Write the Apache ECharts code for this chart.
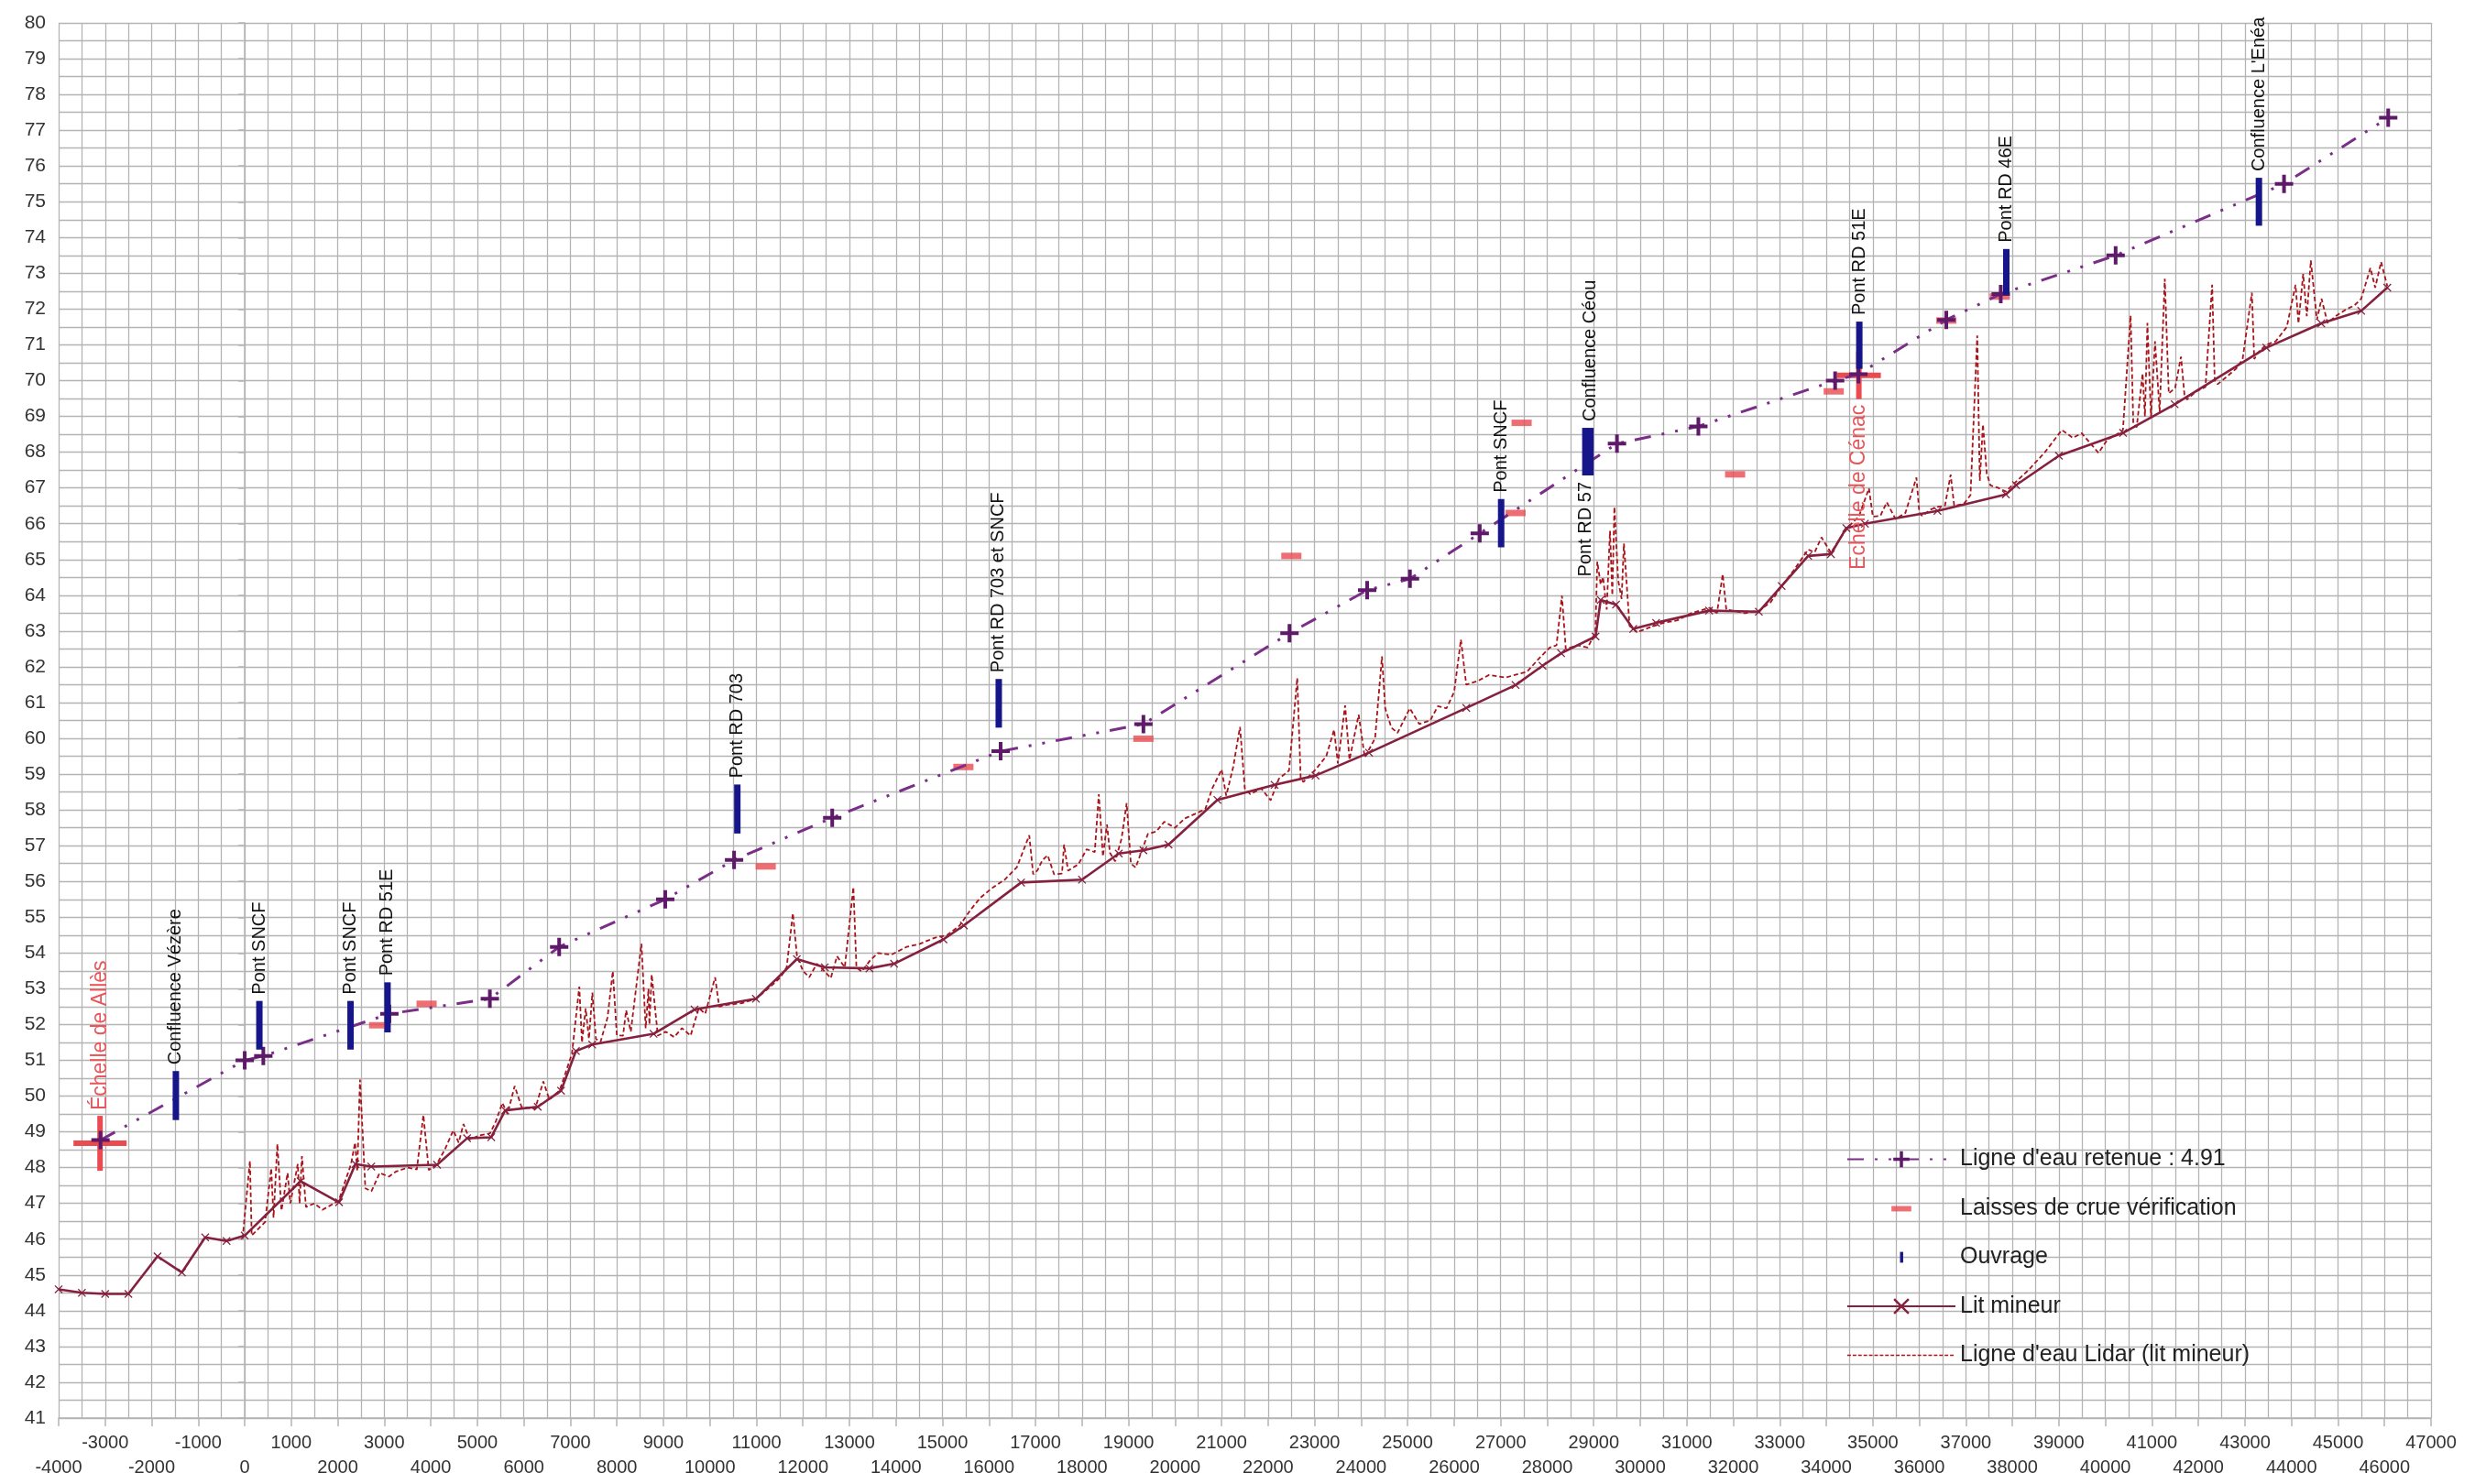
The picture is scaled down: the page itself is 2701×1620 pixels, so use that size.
<!DOCTYPE html>
<html>
<head>
<meta charset="utf-8">
<title>Ligne d'eau</title>
<script src="https://cdn.jsdelivr.net/npm/echarts@6/dist/echarts.min.js"></script>
<style>
html, body { margin: 0; padding: 0; background: #fff; }
#chart { width: 2701px; height: 1620px; }
</style>
</head>
<body>
<div id="chart"></div>
<script>
// --- data (x = distance in m, y = altitude in m) ---
var retenue = [
    [-3100, 48.77], [0, 51.0], [400, 51.12], [3110, 52.3], [5270, 52.72], [6760, 54.17],
    [9040, 55.5], [10520, 56.6], [12630, 57.78], [16250, 59.64], [19320, 60.4],
    [22460, 62.94], [24130, 64.14], [25050, 64.46], [26550, 65.73], [29500, 68.24],
    [31250, 68.72], [34190, 70.0], [34690, 70.18], [36580, 71.7], [37750, 72.42],
    [40220, 73.5], [43840, 75.5], [46080, 77.35]
];

var laisses = [
    [2890, 51.98], [3910, 52.58], [11200, 56.42], [15450, 59.2], [19320, 59.99],
    [22500, 65.1], [27320, 66.3], [27450, 68.82], [32040, 67.38], [34160, 69.7],
    [36580, 71.68], [37730, 72.35]
];

var ouvrageX = [-1480, 315, 2275, 3070, 10590, 16210, 27010, 28820, 28930, 34710, 37870, 43300];
var ouvrageBas = [49.33, 51.3, 51.3, 51.78, 57.34, 60.3, 65.34, 67.35, 67.35, 70.33, 72.4, 74.33];
var ouvrageHaut = [50.7, 52.66, 52.66, 53.18, 58.71, 61.66, 66.69, 68.68, 68.68, 71.65, 73.68, 75.67];
var ouvrageNoms = ['Confluence Vézère', 'Pont SNCF', 'Pont SNCF', 'Pont RD 51E', 'Pont RD 703',
    'Pont RD 703 et SNCF', 'Pont SNCF', 'Pont RD 57', 'Confluence Céou', 'Pont RD 51E',
    'Pont RD 46E', "Confluence L'Enéa"];

var echelles = [[-3110, 48.68], [34700, 70.15]];
var echelleNoms = ['Échelle de Allès', 'Echelle de Cénac'];

var litMineur = [
    [-4000, 44.6], [-3500, 44.5], [-3000, 44.47], [-2500, 44.47], [-1875, 45.52], [-1350, 45.07],
    [-850, 46.05], [-390, 45.95], [0, 46.1], [1200, 47.62], [2028, 47.03], [2380, 48.1],
    [2720, 48.03], [4135, 48.08], [4780, 48.82], [5300, 48.85], [5600, 49.6], [6300, 49.7],
    [6800, 50.15], [7120, 51.26], [7470, 51.44], [8790, 51.74], [9670, 52.42], [10990, 52.72],
    [11870, 53.83], [12470, 53.6], [13430, 53.57], [13960, 53.7], [15020, 54.38], [15460, 54.77],
    [16690, 55.97], [18000, 56.05], [18790, 56.78], [19320, 56.87], [19860, 57.03], [20910, 58.28],
    [22140, 58.7], [23020, 58.96], [24170, 59.6], [26260, 60.85], [27320, 61.49], [27900, 62.03],
    [28300, 62.38], [29040, 62.85], [29150, 63.87], [29480, 63.74], [29850, 63.06], [30340, 63.23],
    [31480, 63.57], [32550, 63.54], [33040, 64.26], [33610, 65.1], [34100, 65.15], [34430, 65.88],
    [34830, 66.0], [36390, 66.36], [37860, 66.82], [38080, 67.08], [39000, 67.9], [40380, 68.54],
    [41490, 69.34], [43460, 70.92], [44640, 71.6], [45500, 71.95], [46060, 72.6]
];

var lidar = [
    [-46, 46.01], [112, 48.19], [150, 46.1], [300, 46.3], [438, 46.48], [570, 47.98], [620, 46.6],
    [702, 48.66], [790, 46.8], [922, 47.85], [980, 47.0], [1141, 48.1], [1180, 47.0], [1230, 48.32],
    [1317, 46.9], [1500, 47.0], [1669, 46.82], [1850, 46.95], [2021, 47.08], [2285, 48.1],
    [2373, 48.7], [2420, 47.9], [2478, 50.46], [2549, 48.62], [2593, 47.42], [2725, 47.34],
    [2900, 47.85], [3100, 47.75], [3252, 47.89], [3500, 48.0], [3700, 47.95], [3841, 49.47],
    [3956, 47.93], [4132, 48.1], [4300, 48.5], [4484, 49.04], [4600, 48.7], [4703, 49.22],
    [4835, 48.79], [5050, 48.9], [5275, 48.96], [5400, 49.3], [5539, 49.81], [5650, 49.5],
    [5803, 50.28], [5950, 49.7], [6243, 49.64], [6419, 50.41], [6550, 49.9], [6771, 50.16],
    [7034, 51.18], [7193, 53.06], [7250, 51.5], [7330, 52.45], [7400, 51.6], [7474, 52.89],
    [7550, 51.6], [7650, 51.52], [7800, 52.2], [7913, 53.49], [8000, 51.7], [8133, 51.69],
    [8200, 52.4], [8300, 51.8], [8529, 54.26], [8620, 51.9], [8680, 53.0], [8700, 52.0],
    [8749, 53.4], [8881, 51.69], [9050, 51.8], [9233, 51.65], [9400, 51.9], [9585, 51.69],
    [9761, 52.46], [9900, 52.3], [10112, 53.32], [10200, 52.5], [10376, 52.55], [10700, 52.6],
    [10992, 52.72], [11250, 53.0], [11520, 53.32], [11650, 53.6], [11784, 55.11], [11872, 53.92],
    [12000, 53.5], [12136, 53.32], [12300, 53.7], [12469, 53.48], [12600, 53.3], [12733, 53.91],
    [12900, 53.6], [13085, 55.84], [13150, 53.6], [13260, 53.48], [13450, 53.8], [13612, 54.0],
    [13900, 53.95], [14228, 54.17], [14500, 54.25], [14843, 54.43], [15100, 54.5], [15371, 54.77],
    [15600, 55.2], [15811, 55.54], [16050, 55.8], [16339, 56.05], [16600, 56.4], [16866, 57.29],
    [16950, 56.2], [17042, 56.31], [17150, 56.6], [17262, 56.73], [17400, 56.2], [17570, 56.22],
    [17614, 57.03], [17700, 56.3], [17922, 56.48], [18100, 56.9], [18274, 56.82], [18361, 58.44],
    [18450, 56.7], [18537, 57.59], [18600, 56.8], [18713, 56.56], [18850, 57.2], [18960, 58.19],
    [19050, 56.5], [19153, 56.39], [19417, 57.33], [19600, 57.4], [19769, 57.67], [20000, 57.5],
    [20209, 57.76], [20450, 57.9], [20649, 58.02], [20800, 58.6], [21000, 59.13], [21100, 58.4],
    [21250, 59.2], [21396, 60.32], [21500, 58.6], [21616, 58.44], [21850, 58.6], [22056, 58.27],
    [22232, 58.87], [22450, 59.1], [22627, 61.69], [22700, 58.9], [22759, 58.78], [23023, 59.13],
    [23250, 59.5], [23419, 60.24], [23500, 59.3], [23656, 60.92], [23750, 59.4], [23947, 60.66],
    [24078, 59.47], [24300, 60.0], [24448, 62.29], [24518, 60.84], [24650, 60.3], [24782, 60.15],
    [25046, 60.84], [25250, 60.4], [25486, 60.5], [25650, 60.9], [25837, 60.84], [26000, 61.3],
    [26145, 62.76], [26260, 61.5], [26500, 61.6], [26749, 61.77], [27100, 61.7], [27566, 61.86],
    [27800, 62.2], [28056, 62.54], [28200, 62.6], [28317, 63.99], [28400, 62.5], [28650, 62.6],
    [28873, 62.54], [29036, 62.97], [29077, 64.94], [29150, 64.3], [29200, 64.51], [29280, 63.6],
    [29350, 65.8], [29400, 64.0], [29445, 66.47], [29526, 64.42], [29600, 63.9], [29649, 65.45],
    [29771, 63.14], [29935, 62.97], [30200, 63.1], [30507, 63.23], [30800, 63.3], [31100, 63.5],
    [31487, 63.65], [31650, 63.5], [31773, 64.59], [31850, 63.6], [31977, 63.57], [32250, 63.5],
    [32549, 63.57], [32800, 63.8], [33039, 64.25], [33300, 64.7], [33611, 65.28], [33750, 65.2],
    [33896, 65.62], [34100, 65.19], [34300, 65.6], [34509, 65.96], [34700, 66.2], [34917, 66.99],
    [35000, 66.2], [35162, 66.22], [35300, 66.6], [35489, 66.13], [35700, 66.3], [35938, 67.29],
    [36000, 66.3], [36062, 66.22], [36250, 66.4], [36385, 66.47], [36550, 66.5], [36673, 67.37],
    [36750, 66.5], [36959, 66.56], [37100, 66.8], [37245, 71.26], [37300, 67.2], [37368, 68.78],
    [37450, 67.4], [37530, 67.07], [37700, 67.0], [37857, 66.9], [38100, 67.2], [38347, 67.5],
    [38700, 68.0], [39064, 68.62], [39300, 68.4], [39491, 68.53], [39852, 67.98], [40049, 68.36],
    [40250, 68.5], [40377, 68.62], [40542, 71.82], [40600, 68.8], [40673, 68.7], [40800, 70.2],
    [40850, 69.0], [40903, 71.61], [40980, 69.0], [41067, 71.1], [41166, 69.13], [41277, 72.85],
    [41362, 69.64], [41500, 69.8], [41625, 70.67], [41700, 69.6], [41757, 69.47], [41950, 69.7],
    [42151, 69.82], [42295, 72.68], [42350, 70.0], [42413, 69.9], [42600, 70.1], [42807, 70.33],
    [42950, 70.6], [43149, 72.46], [43200, 70.6], [43267, 70.76], [43450, 71.0], [43661, 71.1],
    [43900, 71.5], [44088, 72.68], [44150, 71.6], [44252, 72.98], [44330, 71.8], [44416, 73.36],
    [44547, 71.7], [44646, 72.29], [44777, 71.61], [44950, 71.8], [45171, 71.99], [45350, 72.1],
    [45500, 72.29], [45697, 73.15], [45800, 72.6], [45927, 73.32], [46060, 72.64]
];

// --- styles ---
var FONT = 'Liberation Sans';
var NOM_RETENUE = "Ligne d'eau retenue : 4.91";
var NOM_LAISSES = 'Laisses de crue vérification';
var NOM_OUVRAGE = 'Ouvrage';
var NOM_LIT = 'Lit mineur';
var NOM_LIDAR = "Ligne d'eau Lidar (lit mineur)";

var PLUS = 'path://M-1.6,-8h3.2v6.4h6.4v3.2h-6.4v6.4h-3.2v-6.4h-6.4v-3.2h6.4z';
var CROIX = 'path://M-5,-4L-4,-5L0,-1L4,-5L5,-4L1,0L5,4L4,5L0,1L-4,5L-5,4L-1,0Z';
var labelsDessous = ['Pont RD 57'];
var tailleEchelle = {'Échelle de Allès': [58, 60], 'Echelle de Cénac': [48, 52]};

// dashed legend icon for the Lidar line (no symbol in the reference legend)
var iconeLidar = 'path://M0,0M120,22';
for (var d = 0; d < 118; d += 6) {
    iconeLidar += 'M' + d + ',10.3h4v1.4h-4z';
}

var ouvrageData = ouvrageX.map(function (x, i) {
    return [x, ouvrageBas[i], ouvrageHaut[i]];
});

function renderOuvrage(params, api) {
    var x = api.value(0);
    var bas = api.coord([x, api.value(1)]);
    var haut = api.coord([x, api.value(2)]);
    var nom = ouvrageNoms[params.dataIndex];
    var dessous = labelsDessous.indexOf(nom) >= 0;
    return {
        type: 'group',
        children: [{
            type: 'rect',
            shape: {x: bas[0] - 3.5, y: haut[1], width: 7, height: bas[1] - haut[1]},
            style: {fill: '#16168a'}
        }, {
            type: 'text',
            x: bas[0],
            y: dessous ? bas[1] + 7 : haut[1] - 7,
            rotation: Math.PI / 2,
            style: {
                text: nom,
                align: dessous ? 'right' : 'left',
                verticalAlign: 'middle',
                fontSize: 20,
                fontFamily: FONT,
                fill: '#111'
            }
        }]
    };
}

function renderEchelle(params, api) {
    var c = api.coord([api.value(0), api.value(1)]);
    var nom = echelleNoms[params.dataIndex];
    var t = tailleEchelle[nom];
    var dessus = params.dataIndex === 0;
    return {
        type: 'group',
        children: [{
            type: 'rect',
            shape: {x: c[0] - t[0] / 2, y: c[1] - 3, width: t[0], height: 6},
            style: {fill: '#ea4b50'}
        }, {
            type: 'rect',
            shape: {x: c[0] - 3, y: c[1] - t[1] / 2, width: 6, height: t[1]},
            style: {fill: '#ea4b50'}
        }, {
            type: 'text',
            x: c[0],
            y: dessus ? c[1] - t[1] / 2 - 6 : c[1] + t[1] / 2 + 6,
            rotation: Math.PI / 2,
            style: {
                text: nom,
                align: dessus ? 'left' : 'right',
                verticalAlign: 'middle',
                fontSize: 23,
                fontFamily: FONT,
                fill: '#e8555a'
            }
        }]
    };
}

var gridColor = '#b4b4b4';
var labelStyle = {color: '#333', fontSize: 20, fontFamily: FONT, margin: 17,
    showMinLabel: true, showMaxLabel: true};

function estPair(v) {
    return Math.abs(v / 1000) % 2 === 0;
}

var option = {
    backgroundColor: '#fff',
    animation: false,
    textStyle: {fontFamily: FONT},
    grid: {left: 64, right: 48, top: 25, bottom: 72, containLabel: false},
    legend: {
        orient: 'vertical',
        left: 2015,
        top: 1253,
        itemWidth: 118,
        itemHeight: 22,
        itemGap: 28.5,
        padding: 0,
        textStyle: {fontSize: 25, color: '#222', fontFamily: FONT},
        data: [
            {name: NOM_RETENUE},
            {name: NOM_LAISSES, icon: 'path://M0,0M120,22M49,8.5h22v6h-22z'},
            {name: NOM_OUVRAGE, icon: 'path://M0,0M120,22M58.5,5h3.5v12h-3.5z'},
            {name: NOM_LIT},
            {name: NOM_LIDAR, icon: iconeLidar}
        ]
    },
    xAxis: [{
        // odd thousands on the upper row, with the grid
        type: 'value',
        min: -4000,
        max: 47000,
        interval: 1000,
        axisLine: {show: true, lineStyle: {color: gridColor, width: 1.5}},
        axisTick: {show: true, length: 9, lineStyle: {color: gridColor, width: 1.5}},
        minorTick: {show: false, splitNumber: 2},
        splitLine: {show: true, lineStyle: {color: gridColor, width: 1.3}},
        minorSplitLine: {show: true, lineStyle: {color: gridColor, width: 1.3}},
        axisLabel: Object.assign({}, labelStyle, {
            formatter: function (v) { return estPair(v) ? '' : '' + v; }
        })
    }, {
        // even thousands on the lower row
        type: 'value',
        position: 'bottom',
        offset: 27,
        min: -4000,
        max: 47000,
        interval: 1000,
        axisLine: {show: false},
        axisTick: {show: false},
        splitLine: {show: false},
        axisLabel: Object.assign({}, labelStyle, {
            formatter: function (v) { return estPair(v) ? '' + v : ''; }
        })
    }],
    yAxis: {
        type: 'value',
        min: 41,
        max: 80,
        interval: 1,
        axisLine: {show: true, lineStyle: {color: gridColor, width: 1.5}},
        axisTick: {show: true, length: 7, lineStyle: {color: gridColor, width: 1.5}},
        minorTick: {show: false, splitNumber: 2},
        splitLine: {show: true, lineStyle: {color: gridColor, width: 1.3}},
        minorSplitLine: {show: true, lineStyle: {color: gridColor, width: 1.3}},
        axisLabel: {color: '#333', fontSize: 21, fontFamily: FONT, margin: 14}
    },
    series: [
        {
            name: NOM_LIDAR,
            type: 'line',
            symbol: 'none',
            z: 2,
            lineStyle: {color: '#a8141a', width: 1.8, type: [5, 3]},
            itemStyle: {color: '#a8141a'},
            data: lidar
        },
        {
            name: NOM_LIT,
            type: 'line',
            symbol: CROIX,
            symbolSize: 9,
            showSymbol: true,
            z: 3,
            lineStyle: {color: '#85203e', width: 2.6},
            itemStyle: {color: '#85203e'},
            data: litMineur
        },
        {
            name: 'Échelles',
            type: 'custom',
            renderItem: renderEchelle,
            encode: {x: 0, y: 1},
            z: 4,
            data: echelles
        },
        {
            name: NOM_LAISSES,
            type: 'scatter',
            symbol: 'rect',
            symbolSize: [22, 7],
            z: 4,
            itemStyle: {color: '#ea4b50'},
            data: laisses
        },
        {
            name: NOM_RETENUE,
            type: 'line',
            symbol: PLUS,
            symbolSize: 20,
            showSymbol: true,
            z: 5,
            lineStyle: {color: '#7b2e88', width: 3, type: [18, 12, 3, 12, 3, 12]},
            itemStyle: {color: '#5e1a68'},
            data: retenue
        },
        {
            name: NOM_OUVRAGE,
            type: 'custom',
            renderItem: renderOuvrage,
            encode: {x: 0, y: [1, 2]},
            clip: false,
            z: 6,
            itemStyle: {color: '#16168a'},
            data: ouvrageData
        }
    ]
};

var myChart = echarts.init(document.getElementById('chart'));
myChart.setOption(option);
</script>
</body>
</html>
